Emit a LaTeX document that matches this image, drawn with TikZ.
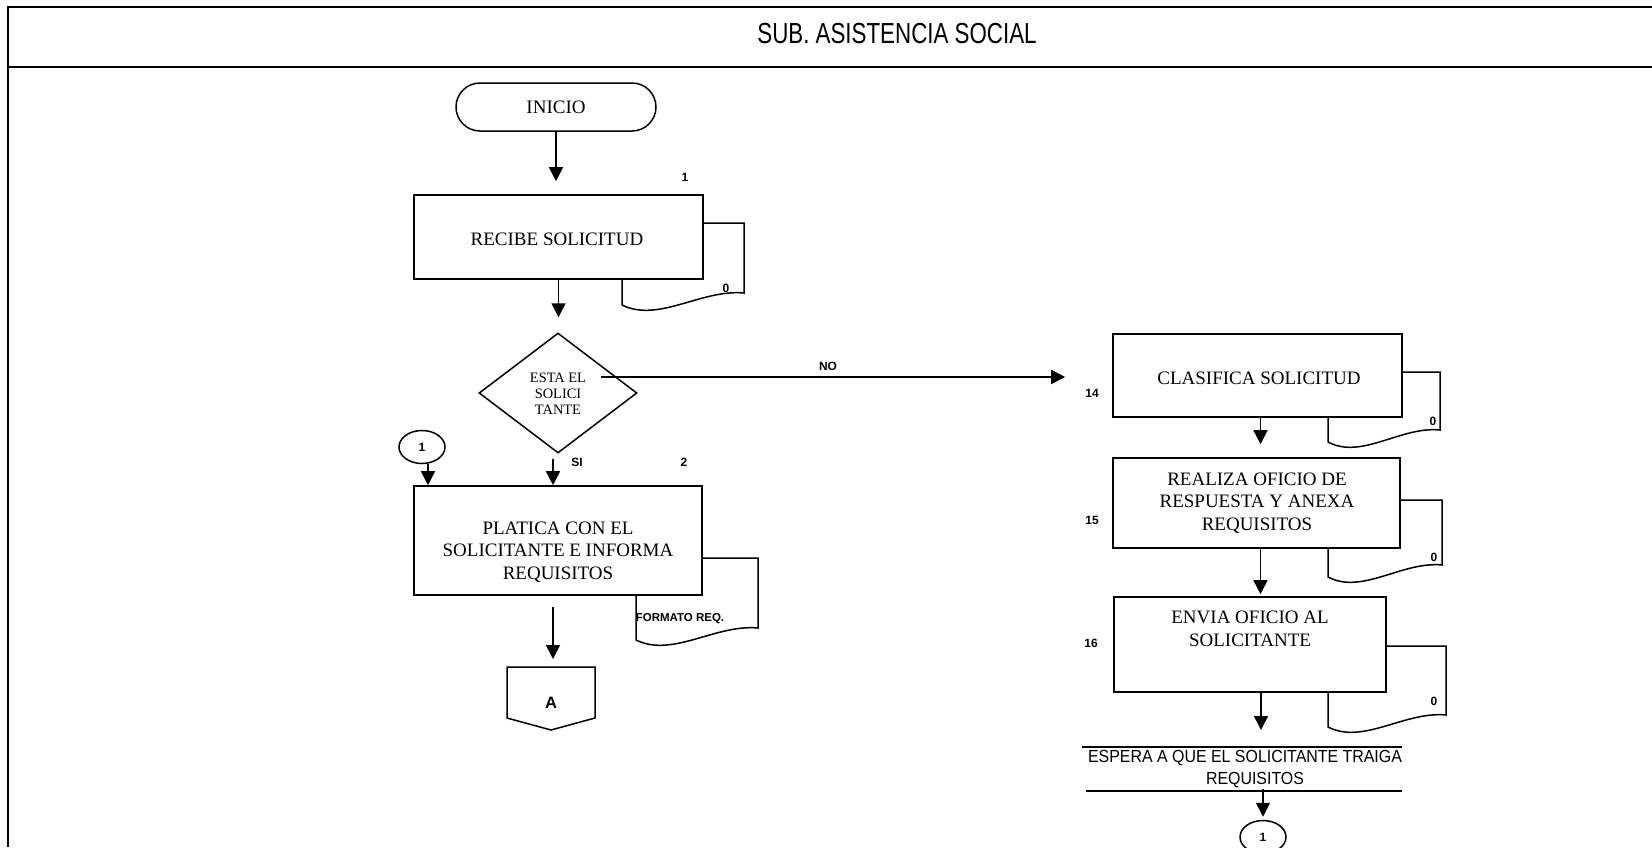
\documentclass[tikz,border=0pt]{standalone}
\usepackage{fontspec}
\usepackage{graphicx}
\setmainfont{Liberation Serif}
\newfontfamily\arial{Liberation Sans}
\usetikzlibrary{arrows.meta,shapes.geometric}

% document symbol: rectangle with a wavy bottom edge (left, top, right, bottom-left)
\newcommand{\docpaper}[4]{%
  \draw[docline] (#1,#2) -- (#3,#2) -- (#3,{#4-12})
    .. controls ({#1+0.65*(#3-#1)},{#4-16}) and ({#1+0.3*(#3-#1)},{#4+18}) .. (#1,#4) -- cycle;}

\begin{document}
\begin{tikzpicture}[x=1pt,y=-1pt,
  frameline/.style={line width=2pt},
  docline/.style={line width=1.5pt, fill=white},
  procbox/.style={draw, line width=1.6pt, fill=white, rectangle, inner sep=0pt},
  boxtext/.style={font=\fontsize{19}{22.5}\selectfont, align=center, inner sep=0pt},
  numlbl/.style={font=\arial\bfseries\fontsize{12}{14}\selectfont, inner sep=0pt},
  arr/.style={-{Triangle[length=14pt,width=14pt]}, line width=1.6pt},
  connector/.style={draw, ellipse, line width=1.5pt, fill=white, minimum width=46pt, minimum height=33pt, inner sep=0pt, font=\arial\bfseries\fontsize{12}{14}\selectfont},
]
\useasboundingbox (0,0) rectangle (1652,847);

% page frame and header
\draw[frameline] (1652,7) -- (8,7) -- (8,847);
\draw[frameline] (8,67) -- (1652,67);
\node[inner sep=0pt] (title) at (897,34)
  {\scalebox{0.77}[1]{\arial\fontsize{29}{32}\selectfont SUB. ASISTENCIA SOCIAL}};

% ---------- left column ----------
\node[draw, line width=1.5pt, rectangle, rounded corners=24pt, minimum width=200pt,
      minimum height=48pt, inner sep=0pt, font=\fontsize{19}{22}\selectfont] (inicio) at (556,107) {INICIO};

\docpaper{622}{223}{744}{305}
\node[procbox, minimum width=289pt, minimum height=84pt] (recibe) at (558.5,237) {};
\node[boxtext] (recibeText) at (557,239) {RECIBE SOLICITUD};
\node[numlbl] (n1) at (685,177) {1};
\node[numlbl] (d1) at (726,288) {0};

\node[draw, diamond, line width=1.5pt, minimum width=158pt, minimum height=120pt,
      aspect=1.3167, inner sep=0pt] (decision) at (558,393) {};
\node[align=center, inner sep=0pt, font=\fontsize{14.4}{16}\selectfont] (decisionText) at (558,394)
  {ESTA EL\\SOLICI\\TANTE};
\coordinate (noStart) at (601,377);
\node[numlbl] (noLbl) at (828,366) {NO};
\node[numlbl] (siLbl) at (577,462) {SI};
\node[numlbl] (n2) at (684,462) {2};

\node[connector] (con1a) at (422,447) {1};

\docpaper{636}{558}{758}{640}
\node[procbox, minimum width=288pt, minimum height=109pt] (platica) at (558,540.5) {};
\node[boxtext] (platicaText) at (558,552)
  {PLATICA CON EL\\SOLICITANTE E INFORMA\\REQUISITOS};
\node[numlbl, font=\arial\bfseries\fontsize{11.5}{13}\selectfont] (formato) at (680,619) {FORMATO REQ.};

% off-page connector
\draw[line width=1.5pt] (507,667) -- (595,667) -- (595,718) -- (551,730) -- (507,718) -- cycle;
\coordinate (conAtop) at (551,667);
\node[inner sep=0pt, font=\arial\bfseries\fontsize{16.5}{18}\selectfont] (conA) at (551,703) {A};

% ---------- right column ----------
\docpaper{1328}{372}{1440}{442}
\node[procbox, minimum width=289pt, minimum height=83pt] (clasifica) at (1257.5,375.5) {};
\node[boxtext] (clasificaText) at (1259,378) {CLASIFICA SOLICITUD};
\node[numlbl] (n14) at (1092,393) {14};
\node[numlbl] (d14) at (1433,421) {0};

\docpaper{1328}{500}{1442}{577}
\node[procbox, minimum width=287pt, minimum height=90pt] (realiza) at (1256.5,503) {};
\node[boxtext] (realizaText) at (1257,503)
  {REALIZA OFICIO DE\\RESPUESTA Y ANEXA\\REQUISITOS};
\node[numlbl] (n15) at (1092,520) {15};
\node[numlbl] (d15) at (1434,557) {0};

\docpaper{1328}{646}{1446}{727}
\node[procbox, minimum width=272pt, minimum height=95pt] (envia) at (1250,644.5) {};
\node[boxtext] (enviaText) at (1250,629) {ENVIA OFICIO AL\\SOLICITANTE};
\node[numlbl] (n16) at (1091,643) {16};
\node[numlbl] (d16) at (1434,701) {0};

% waiting note between two rules
\coordinate (esp1a) at (1082,747);
\coordinate (esp1b) at (1402,747);
\coordinate (esp2a) at (1086,791);
\coordinate (esp2b) at (1402,791);
\draw[line width=1.5pt] (esp1a) -- (esp1b);
\draw[line width=1.5pt] (esp2a) -- (esp2b);
\node[inner sep=0pt, align=center, font=\arial\fontsize{17.5}{22}\selectfont] (espera) at (1245,769)
  {\scalebox{0.91}[1]{ESPERA A QUE EL SOLICITANTE TRAIGA}\\
   \hspace*{20pt}\scalebox{0.91}[1]{REQUISITOS}};

\node[connector] (con1b) at (1263,837) {1};

% ---------- connectors ----------
\draw[arr, shorten >=13pt] (inicio.south) -- (inicio.south |- recibe.north);
\draw[arr, shorten >=15pt] (recibe.south) -- (recibe.south |- decision.north);
\draw[arr, shorten <=5pt] ([xshift=-5pt]decision.south) -- ([xshift=-5pt]decision.south |- platica.north);
\draw[arr, shorten >=47pt] (noStart) -- (noStart -| clasifica.west);
\draw[arr] ([xshift=6pt]con1a.south) -- ([xshift=6pt]con1a.south |- platica.north);
\draw[arr, shorten <=11pt, shorten >=8pt] ([xshift=-5pt]platica.south) -- ([xshift=-5pt]platica.south |- conAtop);
\draw[arr, shorten >=13pt] ([xshift=3pt]clasifica.south) -- ([xshift=3pt]clasifica.south |- realiza.north);
\draw[arr, shorten >=2pt] ([xshift=4pt]realiza.south) -- ([xshift=4pt]realiza.south |- envia.north);
\draw[arr, shorten >=17pt] ([xshift=11pt]envia.south) -- ([xshift=11pt]envia.south |- esp1a);
\draw[arr, shorten <=-2pt, shorten >=3pt] (con1b.north |- esp2a) -- (con1b.north);
\end{tikzpicture}
\end{document}
